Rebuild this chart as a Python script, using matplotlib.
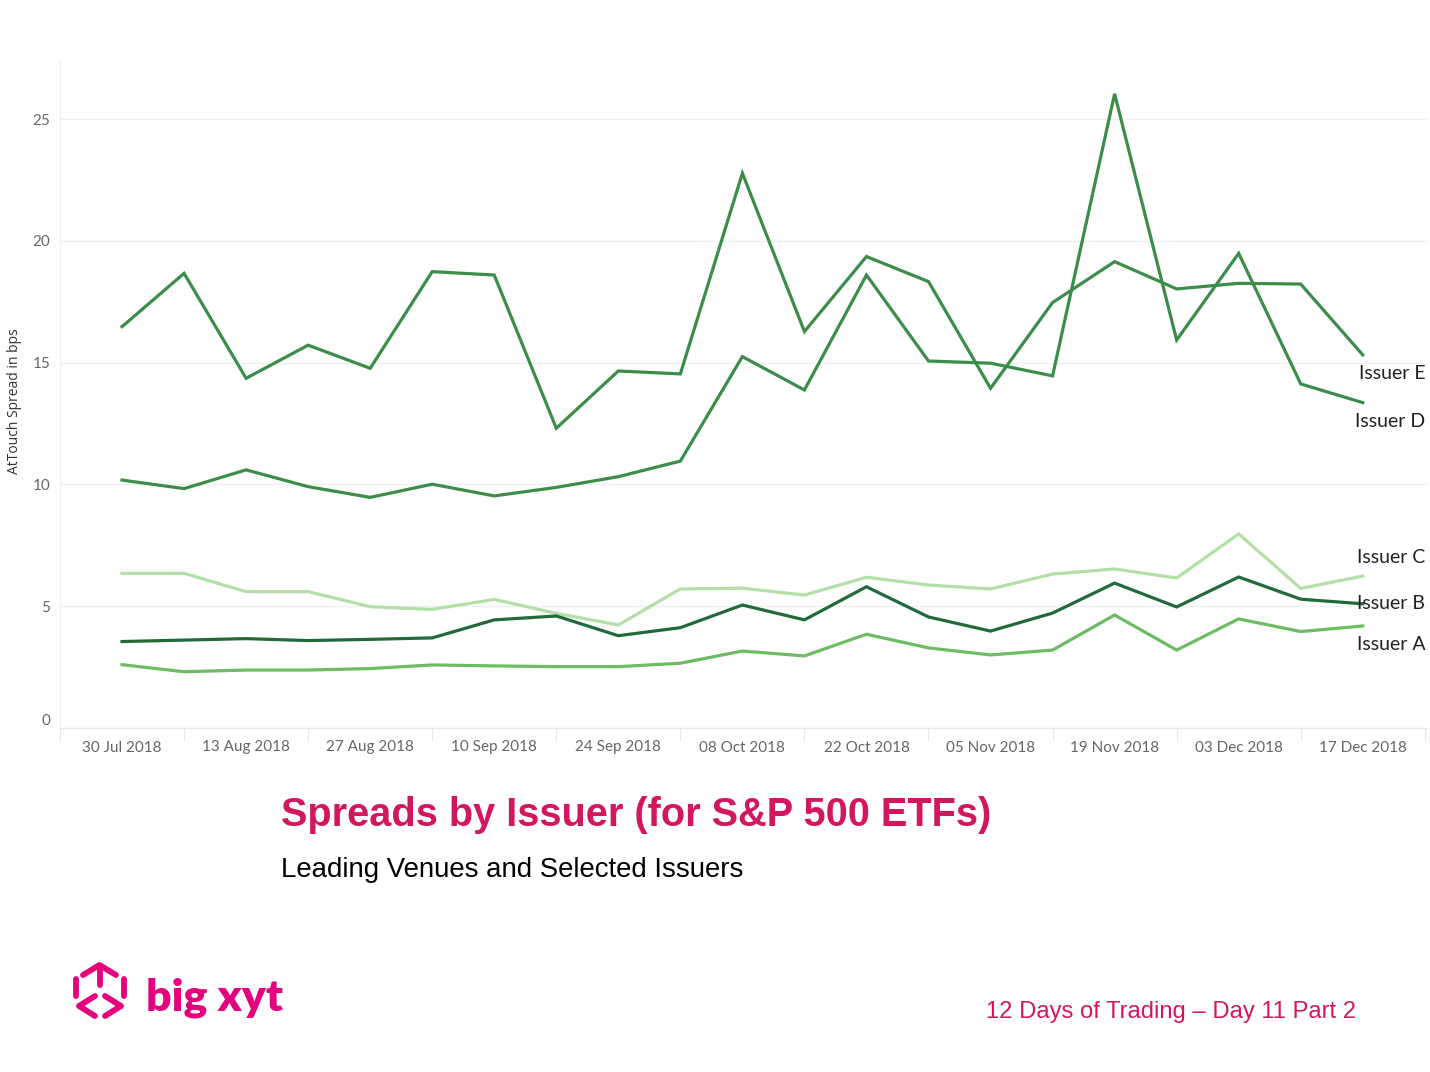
import matplotlib
matplotlib.use("Agg")
import matplotlib.pyplot as plt
import matplotlib.dates as mdates
from matplotlib.lines import Line2D
import pandas as pd

# weekly observations, 30 Jul 2018 .. 17 Dec 2018
dates = pd.date_range("2018-07-30", "2018-12-17", freq="7D")

issuer_e = [16.48, 18.67, 14.36, 15.72, 14.77, 18.74, 18.60, 12.31, 14.66, 14.54, 22.78,
            16.28, 19.36, 18.33, 13.95, 17.47, 19.15, 18.03, 18.26, 18.23, 15.32]
issuer_d = [10.18, 9.83, 10.60, 9.91, 9.47, 10.01, 9.53, 9.88, 10.32, 10.96, 15.25,
            13.88, 18.60, 15.07, 14.98, 14.46, 26.04, 15.93, 19.49, 14.13, 13.36]
issuer_c = [6.35, 6.35, 5.60, 5.60, 4.98, 4.87, 5.28, 4.71, 4.23, 5.71, 5.74,
            5.46, 6.19, 5.87, 5.71, 6.32, 6.53, 6.16, 7.97, 5.73, 6.24]
issuer_b = [3.55, 3.61, 3.67, 3.59, 3.64, 3.70, 4.44, 4.60, 3.79, 4.12, 5.05,
            4.44, 5.80, 4.56, 3.98, 4.72, 5.95, 4.97, 6.20, 5.29, 5.10]
issuer_a = [2.60, 2.31, 2.38, 2.38, 2.44, 2.59, 2.55, 2.52, 2.52, 2.66, 3.16,
            2.96, 3.85, 3.29, 3.00, 3.20, 4.64, 3.20, 4.48, 3.96, 4.19]

y_ticks = [0, 5, 10, 15, 20, 25]

PINK = "#d3175f"
LOGO = "#e5007d"

# (name, values, colour, label offset in points)
series = [
    ("Issuer E", issuer_e, "#3c8c4a", -13.5),
    ("Issuer D", issuer_d, "#3c8c4a", -13.5),
    ("Issuer C", issuer_c, "#b3dfa8", 13.5),
    ("Issuer B", issuer_b, "#226a3a", 0),
    ("Issuer A", issuer_a, "#6dbb63", -13.5),
]

fig = plt.figure(figsize=(14.3, 10.72), dpi=100)
ax = fig.add_axes([60 / 1430, 1 - 728 / 1072, 1367 / 1430, 668 / 1072])

for name, vals, col, dy in series:
    ax.plot(dates, vals, color=col, lw=2.3, solid_joinstyle="miter")
    ax.annotate(name, xy=(dates[-1], vals[-1]), xytext=(45, dy),
                textcoords="offset points", ha="right", va="center",
                fontsize=14, family="Lato", color="#222222")

ax.set_ylim(0, 27.43)
ax.set_xlim(pd.Timestamp("2018-07-23"), pd.Timestamp("2018-12-24 06:00"))
ax.set_yticks(y_ticks)
ax.grid(axis="y", color="#efefef", lw=0.9)
ax.set_axisbelow(True)

# labels every two weeks, small tick marks between them
ax.set_xticks(dates[::2])
ax.xaxis.set_major_formatter(mdates.DateFormatter("%d %b %Y"))
ax.set_xticks(pd.date_range("2018-07-23", "2018-12-24", freq="14D"), minor=True)
ax.tick_params(axis="x", which="major", length=0, pad=9, labelsize=11, labelcolor="#666666")
ax.tick_params(axis="x", which="minor", length=9, color="#e6e6e6", width=0.8)
ax.tick_params(axis="y", length=0, pad=7, labelsize=11, labelcolor="#666666")
for lab in ax.get_xticklabels() + ax.get_yticklabels():
    lab.set_family("Lato")
ax.get_yticklabels()[0].set_va("bottom")

for s in ("top", "right"):
    ax.spines[s].set_visible(False)
ax.spines["left"].set_color("#f0f0f0")
ax.spines["bottom"].set_color("#e6e6e6")
ax.spines["left"].set_linewidth(0.8)
ax.spines["bottom"].set_linewidth(0.9)

ax.set_ylabel("AtTouch Spread in bps", fontsize=10, family="Open Sans", color="#333333")
ax.yaxis.set_label_coords(-0.0275, 0.49)

fig.text(281 / 1430, 1 - 815 / 1072, "Spreads by Issuer (for S&P 500 ETFs)", color=PINK,
         fontsize=28.6, fontweight="bold", family="Liberation Sans", va="center")
fig.text(281 / 1430, 1 - 870 / 1072, "Leading Venues and Selected Issuers", color="black",
         fontsize=19.9, family="Liberation Sans", va="center")
fig.text(1356 / 1430, 1 - 1012 / 1072, "12 Days of Trading \u2013 Day 11 Part 2", color=PINK,
         fontsize=17.1, family="Liberation Sans", ha="right", va="center")

# big xyt logo: icon drawn with a few thick strokes, wordmark as text
def stroke(xs, ys):
    fig.add_artist(Line2D([x / 1430 for x in xs], [1 - y / 1072 for y in ys],
                          transform=fig.transFigure, color=LOGO, lw=4.2,
                          solid_capstyle="round", solid_joinstyle="round"))

stroke([83, 99.5, 116], [975, 965, 975])
stroke([99.5, 99.5], [966, 985])
stroke([76, 76], [979, 996])
stroke([124, 124], [979, 996])
stroke([95, 79, 95], [996, 1006, 1016])
stroke([105, 121, 105], [996, 1006, 1016])
fig.text(146 / 1430, 1 - 1010 / 1072, "big xyt", color=LOGO, fontsize=32,
         fontweight="heavy", family="Lato", va="baseline")

fig.savefig("out.png", dpi=100)
